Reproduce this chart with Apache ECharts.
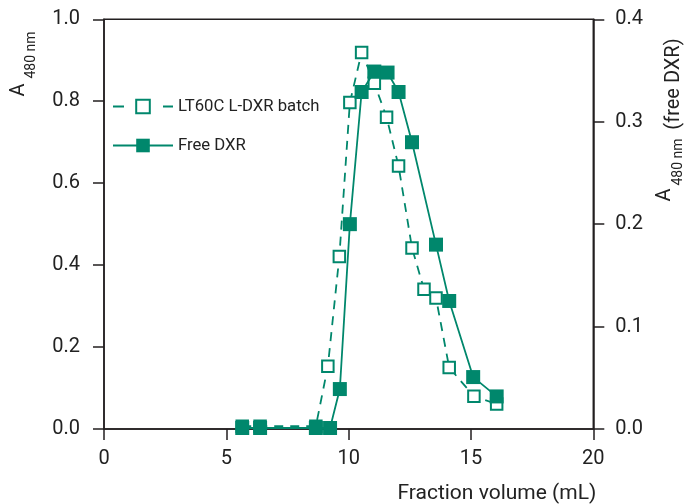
<!DOCTYPE html>
<html>
<head>
<meta charset="utf-8">
<script src="https://cdn.jsdelivr.net/npm/echarts@6/dist/echarts.min.js"></script>
<style>
html,body{margin:0;padding:0;background:#fff;}
#chart{width:686px;height:504px;}
</style>
</head>
<body>
<div id="chart"></div>
<script>
// Fraction volume (mL) and A480 values
const liposomeX = [5.65, 6.38, 8.66, 9.15, 9.62, 10.05, 10.53, 11.05, 11.55, 12.04, 12.59, 13.08, 13.57, 14.11, 15.12, 16.05];
const liposomeY = [0.007, 0.007, 0.007, 0.153, 0.421, 0.797, 0.919, 0.844, 0.761, 0.642, 0.442, 0.341, 0.320, 0.150, 0.080, 0.061];
const freeX = [5.65, 6.38, 8.66, 9.24, 9.64, 10.05, 10.53, 11.05, 11.59, 12.04, 12.59, 13.57, 14.11, 15.09, 16.05];
const freeY = [0.001, 0.001, 0.001, 0.001, 0.039, 0.200, 0.329, 0.349, 0.348, 0.329, 0.280, 0.180, 0.125, 0.0507, 0.0318];
const seriesNames = ['LT60C L-DXR batch', 'Free DXR'];
const xTicks = [0, 5, 10, 15, 20];
const leftTicks = [0, 0.2, 0.4, 0.6, 0.8, 1.0];
const rightTicks = [0, 0.1, 0.2, 0.3, 0.4];

const teal = '#00876c';
const ink = '#231f20';
const font = 'Roboto';

const chart = echarts.init(document.getElementById('chart'), null, {renderer: 'canvas'});
const axisCommon = {
  axisLine: {show: true, lineStyle: {color: ink, width: 1.5}},
  axisTick: {show: true, inside: false, length: 11, lineStyle: {color: ink, width: 1.5}},
  splitLine: {show: false},
  axisLabel: {color: '#222', fontFamily: font, fontSize: 20}
};
chart.setOption({
  animation: false,
  backgroundColor: '#fff',
  grid: {left: 104, right: 92.7, top: 19.3, bottom: 74.7, show: true, borderColor: ink, borderWidth: 1.5, backgroundColor: 'transparent'},
  legend: {
    left: 112, top: 98, padding: 0, orient: 'vertical', itemWidth: 60, itemHeight: 17, itemGap: 22,
    textStyle: {color: '#222', fontFamily: font, fontSize: 16.7},
    data: [
      {name: seriesNames[0], lineStyle: {type: [11, 14]}},
      {name: seriesNames[1]}
    ]
  },
  xAxis: Object.assign({}, axisCommon, {
    type: 'value', min: xTicks[0], max: xTicks[xTicks.length - 1], interval: 5,
    name: 'Fraction volume (mL)', nameLocation: 'end', nameGap: 3,
    nameTextStyle: {color: '#222', fontFamily: font, fontSize: 21, align: 'right', verticalAlign: 'top', padding: [54, 0, 0, 0]},
    axisLabel: Object.assign({}, axisCommon.axisLabel, {margin: 20})
  }),
  yAxis: [
    Object.assign({}, axisCommon, {
      type: 'value', position: 'left', min: leftTicks[0], max: leftTicks[leftTicks.length - 1], interval: 0.2,
      axisLabel: Object.assign({}, axisCommon.axisLabel, {margin: 24, formatter: v => v.toFixed(1)})
    }),
    Object.assign({}, axisCommon, {
      type: 'value', position: 'right', min: rightTicks[0], max: rightTicks[rightTicks.length - 1], interval: 0.1,
      axisLabel: Object.assign({}, axisCommon.axisLabel, {margin: 22, formatter: v => v.toFixed(1)})
    })
  ],
  graphic: [
    {type: 'text', x: 18.5, y: 90, rotation: Math.PI / 2, style: {text: 'A', font: '20px Roboto', fill: '#222', align: 'center', verticalAlign: 'middle'}},
    {type: 'text', x: 31, y: 55, rotation: Math.PI / 2, style: {text: '480 nm', font: '14px Roboto', fill: '#222', align: 'center', verticalAlign: 'middle'}},
    {type: 'text', x: 665, y: 195, rotation: Math.PI / 2, style: {text: 'A', font: '20px Roboto', fill: '#222', align: 'center', verticalAlign: 'middle'}},
    {type: 'text', x: 678, y: 162, rotation: Math.PI / 2, style: {text: '480 nm', font: '14px Roboto', fill: '#222', align: 'center', verticalAlign: 'middle'}},
    {type: 'text', x: 674, y: 84, rotation: Math.PI / 2, style: {text: '(free DXR)', font: '20px Roboto', fill: '#222', align: 'center', verticalAlign: 'middle'}}
  ],
  series: [
    {
      name: seriesNames[0], type: 'line', yAxisIndex: 0, z: 2,
      data: liposomeX.map((x, i) => [x, liposomeY[i]]),
      symbol: 'rect', symbolSize: 11.5,
      itemStyle: {color: '#fff', borderColor: teal, borderWidth: 2},
      lineStyle: {color: teal, width: 1.8, type: [9, 7]}
    },
    {
      name: seriesNames[1], type: 'line', yAxisIndex: 1, z: 3,
      data: freeX.map((x, i) => [x, freeY[i]]),
      symbol: 'rect', symbolSize: 14,
      itemStyle: {color: teal},
      lineStyle: {color: teal, width: 1.8}
    }
  ]
});
</script>
</body>
</html>
